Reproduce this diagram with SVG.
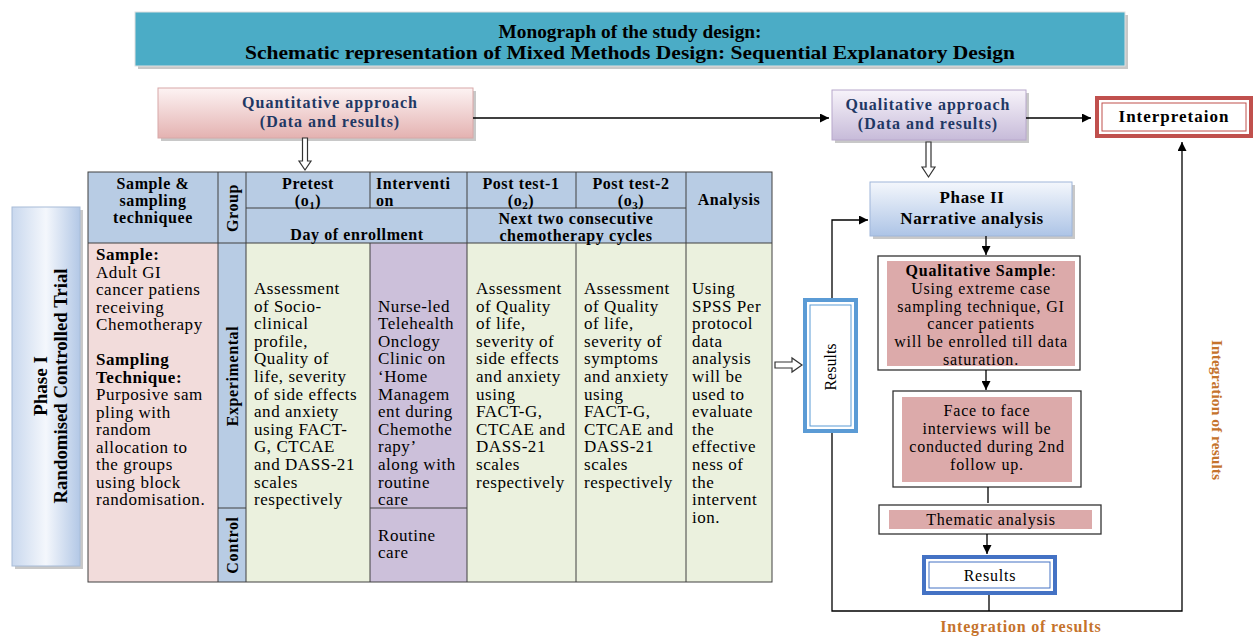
<svg xmlns="http://www.w3.org/2000/svg" width="1255" height="637" viewBox="0 0 1255 637">
<defs>
<linearGradient id="gPink" x1="0" y1="0" x2="0" y2="1"><stop offset="0" stop-color="#fdf3f3"/><stop offset="1" stop-color="#e4b2b1"/></linearGradient>
<linearGradient id="gPurple" x1="0" y1="0" x2="0" y2="1"><stop offset="0" stop-color="#f7f3fa"/><stop offset="1" stop-color="#c7bbd9"/></linearGradient>
<linearGradient id="gBlue" x1="0" y1="0" x2="0" y2="1"><stop offset="0" stop-color="#f4f7fc"/><stop offset="1" stop-color="#adc4e6"/></linearGradient>
<linearGradient id="gBlueH" x1="0" y1="0" x2="1" y2="0"><stop offset="0" stop-color="#c9d8ee"/><stop offset="0.5" stop-color="#f4f7fc"/><stop offset="1" stop-color="#b3c8e6"/></linearGradient>
<marker id="ah" viewBox="0 0 10 10" refX="10" refY="5" markerWidth="9" markerHeight="9" markerUnits="userSpaceOnUse" orient="auto"><path d="M0,0 L10,5 L0,10 z" fill="#000"/></marker>
<style>
text{font-family:"Liberation Serif","Times New Roman",serif;fill:#000}
.b{font-weight:bold}
.hd{font-size:16px;font-weight:bold;letter-spacing:0.6px}
.bd{font-size:17px;letter-spacing:0.55px}
.navy{fill:#1f3864;font-size:16px;font-weight:bold;letter-spacing:1px}
.rt{font-size:16px;letter-spacing:0.8px}
.org{fill:#c5732c;font-weight:bold}
.cell{stroke:#404040;stroke-width:1}
.ln{stroke:#000;stroke-width:1.3;fill:none}
.hollow{fill:#fff;stroke:#333;stroke-width:1.2}
.shadow{fill:#c8c8c8}
</style>
</defs>

<g id="title">
<rect x="138" y="15" width="990" height="54" class="shadow"/>
<rect x="135" y="12" width="990" height="54" fill="#4bacc6" stroke="#e0e0e0" stroke-width="1"/>
<text x="630" y="38" text-anchor="middle" class="b" font-size="19" textLength="263" lengthAdjust="spacingAndGlyphs">Monograph of the study design:</text>
<text x="630" y="59" text-anchor="middle" class="b" font-size="19" textLength="770" lengthAdjust="spacingAndGlyphs">Schematic representation of Mixed Methods Design: Sequential Explanatory Design</text>
</g>

<g id="quantitative">
<rect x="161" y="91" width="315" height="50" class="shadow"/>
<rect x="158" y="88" width="315" height="50" fill="url(#gPink)" stroke="#d8a8a8" stroke-width="1"/>
<text x="330" y="108" text-anchor="middle" class="navy">Quantitative approach</text>
<text x="330" y="127" text-anchor="middle" class="navy">(Data and results)</text>
</g>

<g id="qualitative">
<rect x="835" y="93" width="194" height="50" class="shadow"/>
<rect x="832" y="90" width="194" height="50" fill="url(#gPurple)" stroke="#b8a8cc" stroke-width="1"/>
<text x="928" y="110" text-anchor="middle" class="navy">Qualitative approach</text>
<text x="928" y="129" text-anchor="middle" class="navy">(Data and results)</text>
</g>

<g id="interpretation">
<rect x="1097" y="98" width="154" height="38" fill="#fff" stroke="#c0504d" stroke-width="4"/>
<rect x="1102" y="103" width="144" height="28" fill="none" stroke="#c0504d" stroke-width="1"/>
<text x="1174" y="122" text-anchor="middle" class="b" font-size="17" letter-spacing="1">Interpretaion</text>
</g>

<g id="phase1">
<rect x="15" y="210" width="68" height="359" class="shadow"/>
<rect x="12" y="207" width="68" height="359" fill="url(#gBlueH)" stroke="#a8bcd8" stroke-width="1"/>
<text transform="translate(47,386) rotate(-90)" text-anchor="middle" class="b" font-size="18" textLength="60" lengthAdjust="spacingAndGlyphs">Phase I</text>
<text transform="translate(67,386) rotate(-90)" text-anchor="middle" class="b" font-size="18" textLength="235" lengthAdjust="spacingAndGlyphs">Randomised Controlled Trial</text>
</g>

<g id="table">
<rect x="88" y="172" width="684" height="71" fill="#b8cce4"/>
<rect x="88" y="243" width="130" height="339" fill="#f2dcdb"/>
<rect x="218" y="243" width="28" height="339" fill="#b8cce4"/>
<rect x="246" y="243" width="124" height="339" fill="#ebf1de"/>
<rect x="370" y="243" width="97" height="339" fill="#ccc0da"/>
<rect x="467" y="243" width="305" height="339" fill="#ebf1de"/>
<rect x="88" y="172" width="684" height="410" fill="none" class="cell" stroke-width="1.5"/>
<line x1="246" y1="208" x2="686" y2="208" class="cell"/>
<line x1="88" y1="243" x2="772" y2="243" class="cell"/>
<line x1="218" y1="172" x2="218" y2="582" class="cell"/>
<line x1="246" y1="172" x2="246" y2="582" class="cell"/>
<line x1="370" y1="172" x2="370" y2="208" class="cell"/>
<line x1="370" y1="243" x2="370" y2="582" class="cell"/>
<line x1="467" y1="172" x2="467" y2="582" class="cell"/>
<line x1="576" y1="172" x2="576" y2="208" class="cell"/>
<line x1="576" y1="243" x2="576" y2="582" class="cell"/>
<line x1="686" y1="172" x2="686" y2="582" class="cell"/>
<line x1="218" y1="508" x2="246" y2="508" class="cell"/>
<line x1="370" y1="508" x2="467" y2="508" class="cell"/>
<text x="153" y="189" text-anchor="middle" class="hd">Sample &amp;</text>
<text x="153" y="206" text-anchor="middle" class="hd">sampling</text>
<text x="153" y="223" text-anchor="middle" class="hd">techniquee</text>
<text transform="translate(238,208) rotate(-90)" text-anchor="middle" class="hd" letter-spacing="0.3">Group</text>
<text x="308" y="189" text-anchor="middle" class="hd">Pretest</text>
<text x="308" y="206" text-anchor="middle" class="hd">(o<tspan font-size="11" dy="3">1</tspan><tspan dy="-3">)</tspan></text>
<text x="376" y="189" class="hd">Interventi</text>
<text x="376" y="206" class="hd">on</text>
<text x="357" y="240" text-anchor="middle" class="hd">Day of enrollment</text>
<text x="521" y="189" text-anchor="middle" class="hd">Post test-1</text>
<text x="521" y="206" text-anchor="middle" class="hd">(o<tspan font-size="11" dy="3">2</tspan><tspan dy="-3">)</tspan></text>
<text x="631" y="189" text-anchor="middle" class="hd">Post test-2</text>
<text x="631" y="206" text-anchor="middle" class="hd">(o<tspan font-size="11" dy="3">3</tspan><tspan dy="-3">)</tspan></text>
<text x="576" y="224" text-anchor="middle" class="hd">Next two consecutive</text>
<text x="576" y="241" text-anchor="middle" class="hd">chemotherapy cycles</text>
<text x="729" y="205" text-anchor="middle" class="hd">Analysis</text>
<text transform="translate(238,376) rotate(-90)" text-anchor="middle" class="hd" letter-spacing="0">Experimental</text>
<text transform="translate(238,545) rotate(-90)" text-anchor="middle" class="hd" letter-spacing="0">Control</text>
<text class="bd">
<tspan x="96" y="260" font-weight="bold">Sample:</tspan>
<tspan x="96" y="277.5">Adult GI</tspan>
<tspan x="96" y="295">cancer patiens</tspan>
<tspan x="96" y="312.5">receiving</tspan>
<tspan x="96" y="330">Chemotherapy</tspan>
<tspan x="96" y="365" font-weight="bold">Sampling</tspan>
<tspan x="96" y="382.5" font-weight="bold">Technique:</tspan>
<tspan x="96" y="400">Purposive sam</tspan>
<tspan x="96" y="417.5">pling with</tspan>
<tspan x="96" y="435">random</tspan>
<tspan x="96" y="452.5">allocation to</tspan>
<tspan x="96" y="470">the groups</tspan>
<tspan x="96" y="487.5">using  block</tspan>
<tspan x="96" y="505">randomisation.</tspan>
</text>
<text class="bd">
<tspan x="254" y="294">Assessment</tspan>
<tspan x="254" y="311.6">of  Socio-</tspan>
<tspan x="254" y="329.2">clinical</tspan>
<tspan x="254" y="346.8">profile,</tspan>
<tspan x="254" y="364.4">Quality of</tspan>
<tspan x="254" y="382">life, severity</tspan>
<tspan x="254" y="399.6">of side effects</tspan>
<tspan x="254" y="417.2">and anxiety</tspan>
<tspan x="254" y="434.8">using FACT-</tspan>
<tspan x="254" y="452.4">G, CTCAE</tspan>
<tspan x="254" y="470">and DASS-21</tspan>
<tspan x="254" y="487.6">scales</tspan>
<tspan x="254" y="505.2">respectively</tspan>
</text>
<text class="bd">
<tspan x="378" y="311.6">Nurse-led</tspan>
<tspan x="378" y="329.2">Telehealth</tspan>
<tspan x="378" y="346.8">Onclogy</tspan>
<tspan x="378" y="364.4">Clinic on</tspan>
<tspan x="378" y="382">‘Home</tspan>
<tspan x="378" y="399.6">Managem</tspan>
<tspan x="378" y="417.2">ent during</tspan>
<tspan x="378" y="434.8">Chemothe</tspan>
<tspan x="378" y="452.4">rapy’</tspan>
<tspan x="378" y="470">along with</tspan>
<tspan x="378" y="487.6">routine</tspan>
<tspan x="378" y="505.2">care</tspan>
<tspan x="378" y="541">Routine</tspan>
<tspan x="378" y="558">care</tspan>
</text>
<text class="bd">
<tspan x="476" y="294">Assessment</tspan>
<tspan x="476" y="311.6">of Quality</tspan>
<tspan x="476" y="329.2">of life,</tspan>
<tspan x="476" y="346.8">severity of</tspan>
<tspan x="476" y="364.4">side effects</tspan>
<tspan x="476" y="382">and anxiety</tspan>
<tspan x="476" y="399.6">using</tspan>
<tspan x="476" y="417.2">FACT-G,</tspan>
<tspan x="476" y="434.8">CTCAE and</tspan>
<tspan x="476" y="452.4">DASS-21</tspan>
<tspan x="476" y="470">scales</tspan>
<tspan x="476" y="487.6">respectively</tspan>
</text>
<text class="bd">
<tspan x="584" y="294">Assessment</tspan>
<tspan x="584" y="311.6">of Quality</tspan>
<tspan x="584" y="329.2">of life,</tspan>
<tspan x="584" y="346.8">severity of</tspan>
<tspan x="584" y="364.4">symptoms</tspan>
<tspan x="584" y="382">and anxiety</tspan>
<tspan x="584" y="399.6">using</tspan>
<tspan x="584" y="417.2">FACT-G,</tspan>
<tspan x="584" y="434.8">CTCAE and</tspan>
<tspan x="584" y="452.4">DASS-21</tspan>
<tspan x="584" y="470">scales</tspan>
<tspan x="584" y="487.6">respectively</tspan>
</text>
<text class="bd">
<tspan x="692" y="294">Using</tspan>
<tspan x="692" y="311.6">SPSS Per</tspan>
<tspan x="692" y="329.2">protocol</tspan>
<tspan x="692" y="346.8">data</tspan>
<tspan x="692" y="364.4">analysis</tspan>
<tspan x="692" y="382">will be</tspan>
<tspan x="692" y="399.6">used to</tspan>
<tspan x="692" y="417.2">evaluate</tspan>
<tspan x="692" y="434.8">the</tspan>
<tspan x="692" y="452.4">effective</tspan>
<tspan x="692" y="470">ness of</tspan>
<tspan x="692" y="487.6">the</tspan>
<tspan x="692" y="505.2">intervent</tspan>
<tspan x="692" y="522.8">ion.</tspan>
</text>
</g>

<g id="results-left">
<rect x="805" y="300" width="51" height="131" fill="#fff" stroke="#5b9bd5" stroke-width="4"/>
<rect x="810" y="305" width="41" height="121" fill="none" stroke="#5b9bd5" stroke-width="1"/>
<text transform="translate(836,367) rotate(-90)" text-anchor="middle" font-size="16">Results</text>
</g>

<g id="phase2">
<rect x="873" y="185" width="202" height="54" class="shadow"/>
<rect x="870" y="182" width="202" height="54" fill="url(#gBlue)" stroke="#9fb6da" stroke-width="1"/>
<text x="972" y="203" text-anchor="middle" class="b" font-size="17" letter-spacing="0.6">Phase II</text>
<text x="972" y="224" text-anchor="middle" class="b" font-size="17" letter-spacing="0.6">Narrative analysis</text>
</g>

<g id="qual-sample">
<rect x="878" y="256" width="202" height="114" fill="#fff" stroke="#333" stroke-width="1.3"/>
<rect x="887" y="261" width="188" height="105" fill="#dcaaaa"/>
<text x="981" y="276" text-anchor="middle" class="rt"><tspan font-weight="bold">Qualitative Sample</tspan>:</text>
<text x="981" y="294" text-anchor="middle" class="rt">Using extreme case</text>
<text x="981" y="312" text-anchor="middle" class="rt">sampling technique, GI</text>
<text x="981" y="329" text-anchor="middle" class="rt">cancer patients</text>
<text x="981" y="347" text-anchor="middle" class="rt">will be enrolled till data</text>
<text x="981" y="365" text-anchor="middle" class="rt">saturation.</text>
</g>

<g id="interviews">
<rect x="893" y="391" width="188" height="96" fill="#fff" stroke="#333" stroke-width="1.3"/>
<rect x="902" y="397" width="170" height="85" fill="#dcaaaa"/>
<text x="987" y="416" text-anchor="middle" class="rt">Face to face</text>
<text x="987" y="434" text-anchor="middle" class="rt">interviews will be</text>
<text x="987" y="452" text-anchor="middle" class="rt">conducted during 2nd</text>
<text x="987" y="470" text-anchor="middle" class="rt">follow up.</text>
</g>

<g id="thematic">
<rect x="879" y="505" width="222" height="29" fill="#fff" stroke="#333" stroke-width="1.3"/>
<rect x="889" y="510" width="203" height="19" fill="#dcaaaa"/>
<text x="991" y="525" text-anchor="middle" class="rt">Thematic analysis</text>
</g>

<g id="results-bottom">
<rect x="924" y="557" width="131" height="36" fill="#fff" stroke="#4472c4" stroke-width="4"/>
<rect x="929" y="562" width="121" height="26" fill="none" stroke="#4472c4" stroke-width="1"/>
<text x="990" y="581" text-anchor="middle" class="rt">Results</text>
</g>

<g id="integration-labels">
<text x="1021" y="632" text-anchor="middle" class="org" font-size="16" letter-spacing="0.8">Integration of results</text>
<text transform="translate(1212,410) rotate(90)" text-anchor="middle" class="org" font-size="15" textLength="140" lengthAdjust="spacingAndGlyphs">Integration of results</text>
</g>

<g id="connectors">
<line x1="473" y1="118" x2="829" y2="118" class="ln" marker-end="url(#ah)"/>
<line x1="1026" y1="118" x2="1091" y2="118" class="ln" marker-end="url(#ah)"/>
<polygon class="hollow" points="302.5,138 307.5,138 307.5,161 311,161 305,170 299,161 302.5,161"/>
<polygon class="hollow" points="926,142 931,142 931,167 935,167 928.5,177 922,167 926,167"/>
<polygon class="hollow" points="775,362 792,362 792,358 802,365 792,372 792,368 775,368"/>
<polyline points="832,298 832,220 868,220" class="ln" marker-end="url(#ah)"/>
<polyline points="832,433 832,611 1182,611 1182,142" class="ln" marker-end="url(#ah)"/>
<line x1="986" y1="236" x2="986" y2="255" class="ln" marker-end="url(#ah)"/>
<line x1="986" y1="370" x2="986" y2="390" class="ln" marker-end="url(#ah)"/>
<line x1="988" y1="487" x2="988" y2="503" class="ln"/>
<line x1="987" y1="534" x2="987" y2="554" class="ln" marker-end="url(#ah)"/>
<line x1="989" y1="595" x2="989" y2="611" class="ln"/>
</g>
</svg>
